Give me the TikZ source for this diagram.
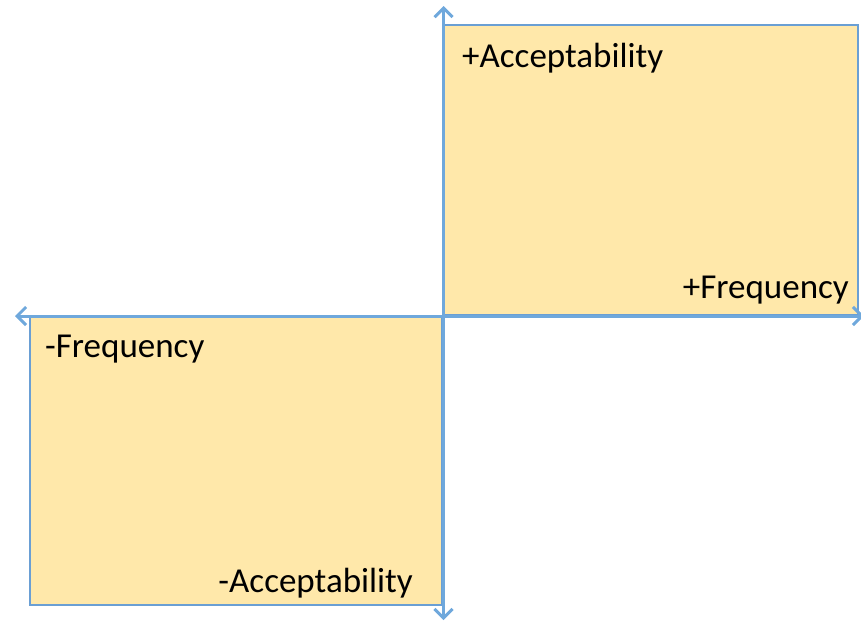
\documentclass[tikz,border=0pt]{standalone}
\usepackage{fontspec}
\setmainfont{Carlito}
\usetikzlibrary{arrows.meta}
\definecolor{boxfill}{HTML}{FFE8AA}
\definecolor{axisblue}{HTML}{6FA8DC}
\definecolor{boxline}{HTML}{6A9FD4}
\begin{document}
\begin{tikzpicture}[x=1pt,y=-1pt,
  quad/.style={draw=boxline,line width=1.2pt,fill=boxfill,inner sep=0pt,outer sep=0pt},
  axis/.style={draw=axisblue,line width=3pt,{Straight Barb[length=9pt,width=18pt,line width=3pt]}-{Straight Barb[length=9pt,width=18pt,line width=3pt]}},
  lbl/.style={inner sep=0pt,font=\fontsize{35}{40}\selectfont,text=black}]
\useasboundingbox (0,0) rectangle (861,621);
\node[quad,minimum width=413.5pt,minimum height=289.5pt] (tr) at (651.25,169.75) {};
\node[quad,minimum width=412pt,minimum height=287.5pt] (bl) at (236,461.25) {};
\coordinate (top) at (443.5,6);
\coordinate (bot) at (443.5,620);
\coordinate (lft) at (15,316);
\coordinate (rgt) at (864,316);
\draw[axis] (top) -- (bot);
\draw[axis] (lft) -- (rgt);
\node[lbl,anchor=base west] (pa) at (462,67) {+Acceptability};
\node[lbl,anchor=base east] (pf) at (849,298) {+Frequency};
\node[lbl,anchor=base west] (mf) at (45,357) {-Frequency};
\node[lbl,anchor=base east] (ma) at (413,592) {-Acceptability};
\end{tikzpicture}
\end{document}
